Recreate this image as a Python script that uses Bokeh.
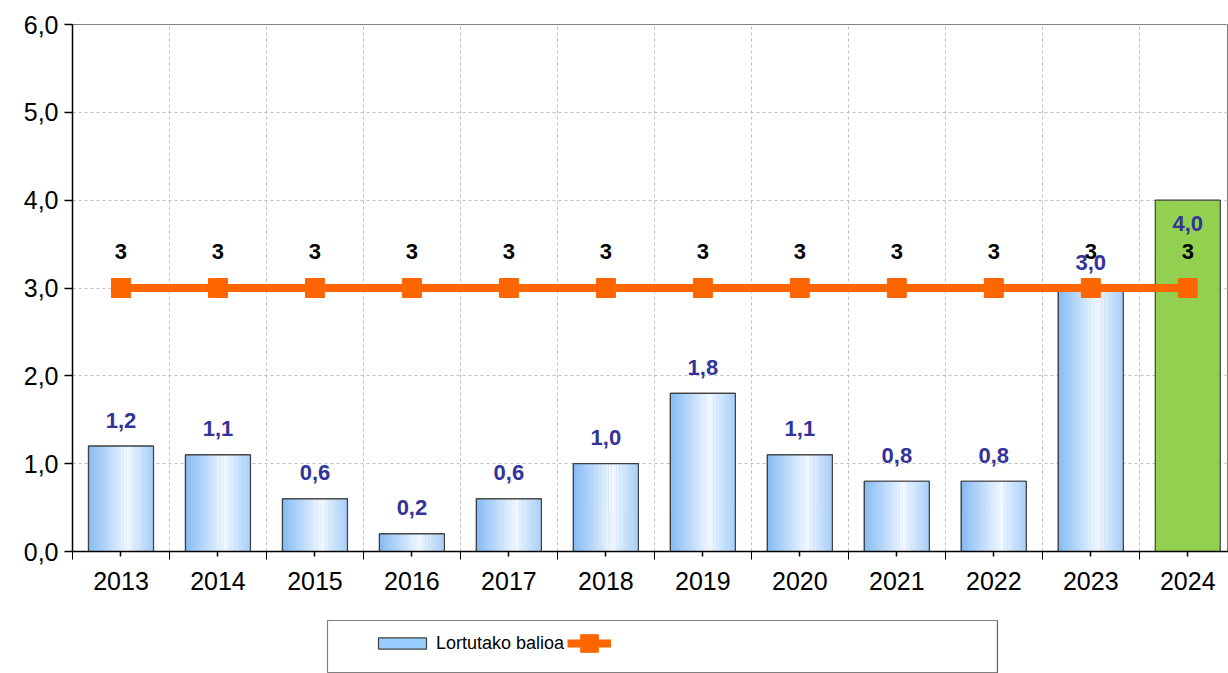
from bokeh.plotting import figure
from bokeh.models import (ColumnDataSource, Range1d, FixedTicker, Legend, LegendItem)
from bokeh.layouts import column
from bokeh.transform import dodge
from bokeh.core.properties import value
from bokeh.embed import file_html
from bokeh.resources import INLINE

# ---- data ----
years = [2013, 2014, 2015, 2016, 2017, 2018, 2019, 2020, 2021, 2022, 2023, 2024]
values = [1.2, 1.1, 0.6, 0.2, 0.6, 1.0, 1.8, 1.1, 0.8, 0.8, 3.0, 4.0]
target = [3, 3, 3, 3, 3, 3, 3, 3, 3, 3, 3, 3]
value_labels = ["1,2", "1,1", "0,6", "0,2", "0,6", "1,0", "1,8", "1,1", "0,8", "0,8", "3,0", "4,0"]
target_labels = ["3", "3", "3", "3", "3", "3", "3", "3", "3", "3", "3", "3"]
y_ticks = [0, 1, 2, 3, 4, 5, 6]
y_tick_labels = ["0,0", "1,0", "2,0", "3,0", "4,0", "5,0", "6,0"]
legend_label = "Lortutako balioa"

FONT = "Liberation Sans"
BAR_W = 0.67
BAR_LINE = "#404040"
ORANGE = "#FF6600"

p = figure(width=1228, height=605, output_backend="svg", toolbar_location=None,
           x_range=Range1d(2012.5, 2024.42), y_range=Range1d(0, 6),
           min_border_left=72, min_border_top=24, min_border_bottom=54, min_border_right=0)
p.background_fill_color = "white"
p.border_fill_color = "white"
p.outline_line_color = "#808080"
p.outline_line_width = 1

# axes
boundaries = [y - 0.5 for y in years] + [years[-1] + 0.5]
p.xaxis.ticker = FixedTicker(ticks=years, minor_ticks=boundaries)
p.xaxis.formatter.use_scientific = False
p.xaxis.major_label_overrides = {y: str(y) for y in years}
p.xaxis.major_tick_out = 5
p.xaxis.major_tick_in = 0
p.xaxis.minor_tick_out = 8
p.xaxis.minor_tick_in = 0
p.xaxis.minor_tick_line_color = "black"
p.yaxis.ticker = FixedTicker(ticks=y_ticks)
p.yaxis.major_label_overrides = {t: l for t, l in zip(y_ticks, y_tick_labels)}
p.yaxis.major_tick_out = 8
p.yaxis.major_tick_in = 0
p.yaxis.minor_tick_line_color = None
for ax in (p.xaxis, p.yaxis):
    ax.axis_line_color = "black"
    ax.axis_line_width = 1.5
    ax.major_tick_line_color = "black"
    ax.major_tick_line_width = 1.5
    ax.major_label_text_font = FONT
    ax.major_label_text_font_size = "25px"
    ax.major_label_text_color = "black"
p.xaxis.major_label_standoff = 12
p.yaxis.major_label_standoff = 6

p.xgrid.grid_line_color = None
p.xgrid.minor_grid_line_color = "#BFBFBF"
p.xgrid.minor_grid_line_dash = "3 3"
p.ygrid.grid_line_color = "#BFBFBF"
p.ygrid.grid_line_dash = "3 3"

# ---- bars ----
n_blue = len(years) - 1
src_blue = ColumnDataSource(dict(x=years[:n_blue], top=values[:n_blue]))
src_green = ColumnDataSource(dict(x=years[n_blue:], top=values[n_blue:]))

p.vbar(x="x", top="top", width=BAR_W, source=src_blue,
       fill_color="#99CCFF", line_color=BAR_LINE, line_width=1.2)

def mix(c1, c2, w):
    return "#%02x%02x%02x" % tuple(int(round(a + (b - a) * w)) for a, b in zip(c1, c2))

edge = (0x84, 0xBA, 0xF4)
center = (0xF2, 0xF8, 0xFF)
N = 24
sw = BAR_W / N
for i in range(N):
    t = (i + 0.5) / N
    w = max(0.0, 1 - abs(t - 0.6) / 0.6) ** 1.0
    off = -BAR_W / 2 + sw * (i + 0.5)
    p.vbar(x=dodge("x", off), top="top", width=sw * 1.05, source=src_blue,
           fill_color=mix(edge, center, w), line_color=None)
p.vbar(x="x", top="top", width=BAR_W, source=src_blue,
       fill_color=None, line_color=BAR_LINE, line_width=1.2)

p.vbar(x="x", top="top", width=BAR_W, source=src_green,
       fill_color="#92D050", line_color=BAR_LINE, line_width=1.2)

# ---- target line ----
p.line(years, target, line_color=ORANGE, line_width=8)
p.scatter(years, target, marker="square", size=19, fill_color=ORANGE, line_color=ORANGE)

# ---- labels ----
p.text(x=years[:n_blue], y=values[:n_blue], text=value_labels[:n_blue],
       text_font=value(FONT), text_font_size="22px", text_font_style="bold",
       text_color="#333399", text_align="center", text_baseline="middle", y_offset=-26)
p.text(x=years[n_blue:], y=values[n_blue:], text=value_labels[n_blue:],
       text_font=value(FONT), text_font_size="22px", text_font_style="bold",
       text_color="#333399", text_align="center", text_baseline="middle", y_offset=23)
p.text(x=years, y=target, text=target_labels,
       text_font=value(FONT), text_font_size="22px", text_font_style="bold",
       text_color="black", text_align="center", text_baseline="middle", y_offset=-37)

# ---- legend (separate strip below the chart; its frame is the legend box) ----
lg = figure(width=1228, height=68, output_backend="svg", toolbar_location=None,
            x_range=Range1d(0, 1), y_range=Range1d(0, 1),
            min_border_left=327, min_border_right=231, min_border_top=15, min_border_bottom=0)
lg.axis.visible = False
lg.grid.visible = False
lg.outline_line_color = "#808080"
lg.outline_line_width = 1.2
lg.background_fill_color = "white"
lg.border_fill_color = "white"
# legend-swatch renderers: their data lie outside this strip's ranges, so only the swatches show
r_bar = lg.vbar(x=years[:1], top=values[:1], width=BAR_W,
                fill_color="#99CCFF", line_color=BAR_LINE, line_width=1.2)
r_line = lg.line(x=years[:2], y=target[:2], line_color=ORANGE, line_width=8)
r_mk = lg.scatter(x=years[:1], y=target[:1], marker="square", size=19,
                  fill_color=ORANGE, line_color=ORANGE)

leg_a = Legend(items=[LegendItem(label=legend_label, renderers=[r_bar])],
               location=(45, 18), padding=0, margin=0, glyph_width=60, glyph_height=14,
               label_standoff=4, label_height=24, label_text_font=FONT,
               label_text_font_size="18px", label_text_color="black",
               border_line_color=None, background_fill_alpha=0)
leg_b = Legend(items=[LegendItem(label="", renderers=[r_line, r_mk])],
               location=(240, 7), padding=0, margin=0, glyph_width=44, glyph_height=46,
               label_standoff=0, label_height=24, label_width=0,
               border_line_color=None, background_fill_alpha=0)
lg.add_layout(leg_a, "center")
lg.add_layout(leg_b, "center")

for fig in (p, lg):
    try:
        fig.frame_align = False
    except Exception:
        pass

layout = column(p, lg, spacing=0)
open("out.html", "w").write(file_html(layout, INLINE))
